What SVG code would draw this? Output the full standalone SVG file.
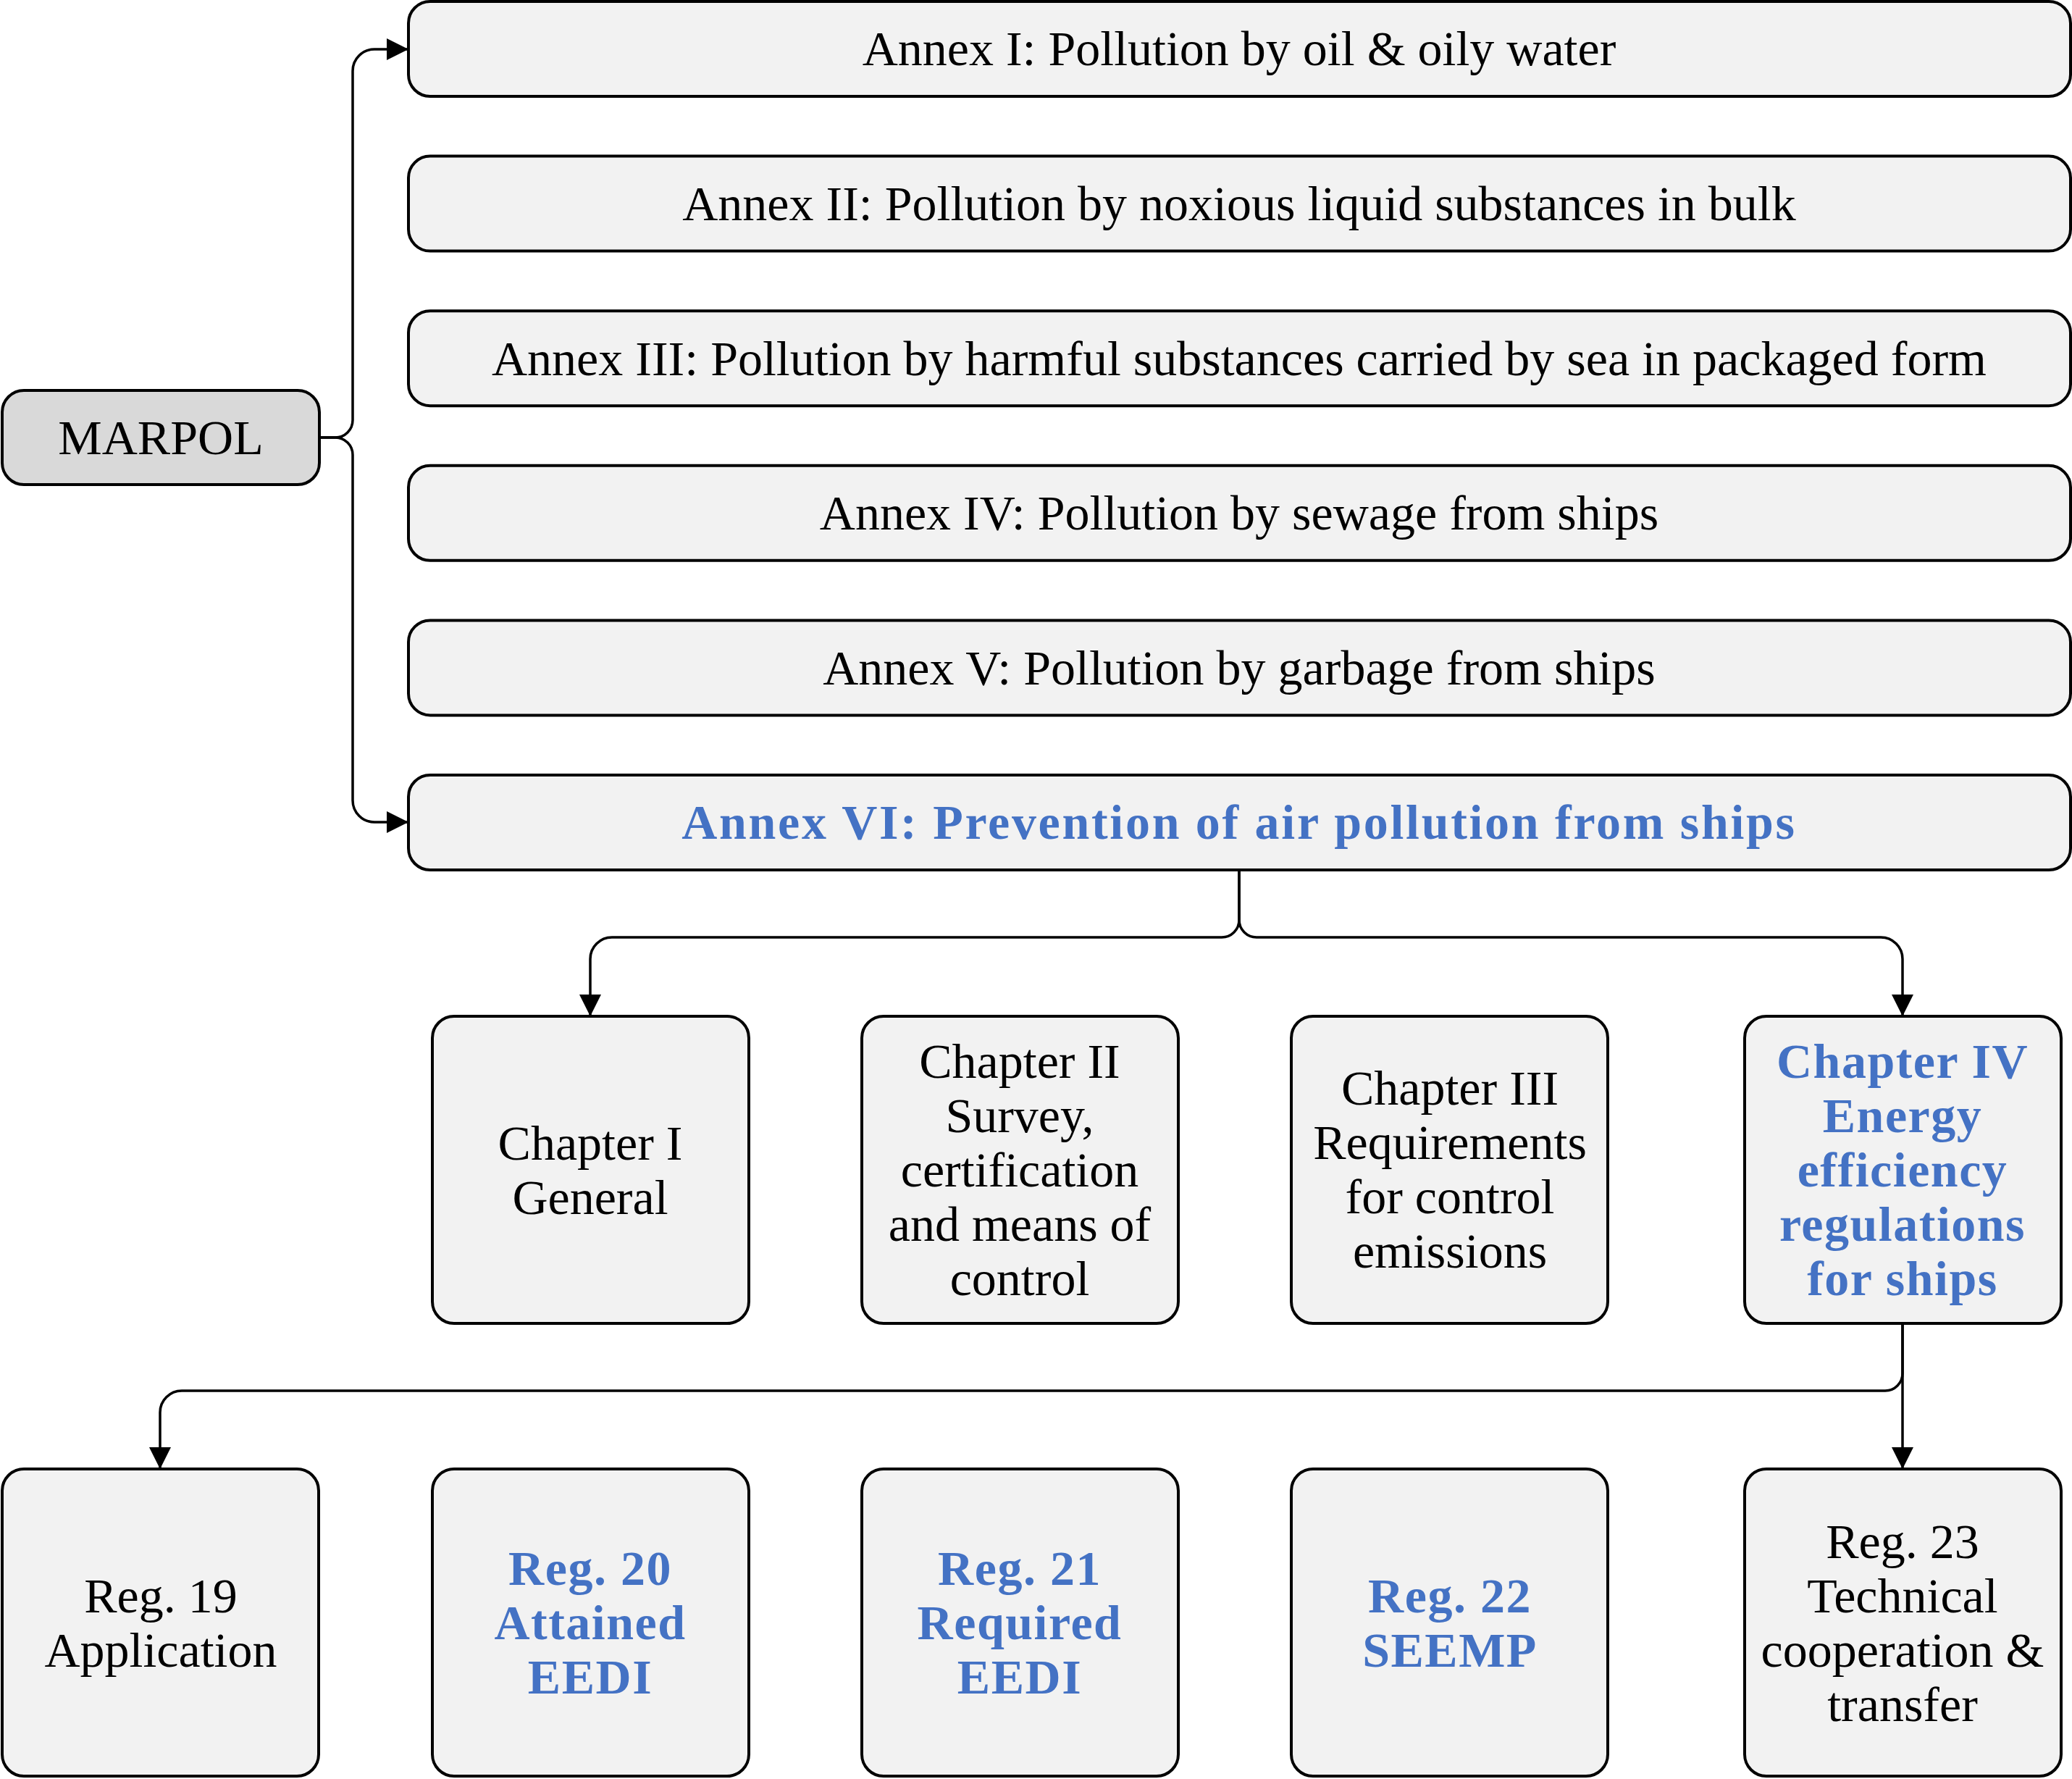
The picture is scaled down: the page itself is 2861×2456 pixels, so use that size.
<svg xmlns="http://www.w3.org/2000/svg" width="2861" height="2456" viewBox="0 0 2861 2456">
<style>
  .box{fill:#F2F2F2;stroke:#000;stroke-width:4}
  .root{fill:#D9D9D9;stroke:#000;stroke-width:4}
  .t{font-family:"Liberation Serif","Times New Roman",serif;font-size:68px;fill:#000;text-anchor:middle}
  .b{font-weight:bold;fill:#4472C4;letter-spacing:1.5px}
  .wide{letter-spacing:2.7px}
  .conn{fill:none;stroke:#000;stroke-width:3.5;marker-end:url(#arr)}
</style>
<defs>
  <marker id="arr" markerUnits="userSpaceOnUse" markerWidth="30" markerHeight="30" refX="30" refY="15" orient="auto">
    <path d="M0,0 L30,15 L0,30 Z" fill="#000"/>
  </marker>
</defs>
<rect width="2861" height="2456" fill="#fff"/>
<g id="connectors">
  <path class="conn" d="M441,604 H463 A24,24 0 0 0 487,580 V98 A30,30 0 0 1 517,68 H564"/>
  <path class="conn" d="M441,604 H463 A24,24 0 0 1 487,628 V1105 A30,30 0 0 0 517,1135 H564"/>
  <path class="conn" d="M1711,1200 V1270 A24,24 0 0 1 1687,1294 H845 A30,30 0 0 0 815,1324 V1403"/>
  <path class="conn" d="M1711,1200 V1270 A24,24 0 0 0 1735,1294 H2597 A30,30 0 0 1 2627,1324 V1403"/>
  <path class="conn" d="M2627,1828 V1896 A24,24 0 0 1 2603,1920 H251 A30,30 0 0 0 221,1950 V2028"/>
  <path class="conn" d="M2627,1828 V2028"/>
</g>
<g id="marpol">
  <rect class="root" x="3" y="539" width="438" height="130" rx="30"/>
  <text class="t" x="222" y="627">MARPOL</text>
</g>
<g id="annex1">
  <rect class="box" x="564" y="2" width="2295" height="131" rx="30"/>
  <text class="t" x="1711" y="90">Annex I: Pollution by oil &amp; oily water</text>
</g>
<g id="annex2">
  <rect class="box" x="564" y="215.6" width="2295" height="131" rx="30"/>
  <text class="t" x="1711" y="304">Annex II: Pollution by noxious liquid substances in bulk</text>
</g>
<g id="annex3">
  <rect class="box" x="564" y="429.2" width="2295" height="131" rx="30"/>
  <text class="t" x="1711" y="518">Annex III: Pollution by harmful substances carried by sea in packaged form</text>
</g>
<g id="annex4">
  <rect class="box" x="564" y="642.8" width="2295" height="131" rx="30"/>
  <text class="t" x="1711" y="731">Annex IV: Pollution by sewage from ships</text>
</g>
<g id="annex5">
  <rect class="box" x="564" y="856.4" width="2295" height="131" rx="30"/>
  <text class="t" x="1711" y="945">Annex V: Pollution by garbage from ships</text>
</g>
<g id="annex6">
  <rect class="box" x="564" y="1070" width="2295" height="131" rx="30"/>
  <text class="t b wide" x="1711" y="1158">Annex VI: Prevention of air pollution from ships</text>
</g>
<g id="chapter1">
  <rect class="box" x="597" y="1403" width="437" height="424" rx="30"/>
  <text class="t" x="815" y="1601">Chapter I</text>
  <text class="t" x="815" y="1676">General</text>
</g>
<g id="chapter2">
  <rect class="box" x="1190" y="1403" width="437" height="424" rx="30"/>
  <text class="t" x="1408" y="1488">Chapter II</text>
  <text class="t" x="1408" y="1563">Survey,</text>
  <text class="t" x="1408" y="1638">certification</text>
  <text class="t" x="1408" y="1713">and means of</text>
  <text class="t" x="1408" y="1788">control</text>
</g>
<g id="chapter3">
  <rect class="box" x="1783" y="1403" width="437" height="424" rx="30"/>
  <text class="t" x="2002" y="1525">Chapter III</text>
  <text class="t" x="2002" y="1600">Requirements</text>
  <text class="t" x="2002" y="1675">for control</text>
  <text class="t" x="2002" y="1750">emissions</text>
</g>
<g id="chapter4">
  <rect class="box" x="2409" y="1403" width="437" height="424" rx="30"/>
  <text class="t b" x="2627" y="1488">Chapter IV</text>
  <text class="t b" x="2627" y="1563">Energy</text>
  <text class="t b" x="2627" y="1638">efficiency</text>
  <text class="t b" x="2627" y="1713">regulations</text>
  <text class="t b" x="2627" y="1788">for ships</text>
</g>
<g id="reg19">
  <rect class="box" x="3" y="2028" width="437" height="424" rx="30"/>
  <text class="t" x="222" y="2226">Reg. 19</text>
  <text class="t" x="222" y="2301">Application</text>
</g>
<g id="reg20">
  <rect class="box" x="597" y="2028" width="437" height="424" rx="30"/>
  <text class="t b" x="815" y="2188">Reg. 20</text>
  <text class="t b" x="815" y="2263">Attained</text>
  <text class="t b" x="815" y="2338">EEDI</text>
</g>
<g id="reg21">
  <rect class="box" x="1190" y="2028" width="437" height="424" rx="30"/>
  <text class="t b" x="1408" y="2188">Reg. 21</text>
  <text class="t b" x="1408" y="2263">Required</text>
  <text class="t b" x="1408" y="2338">EEDI</text>
</g>
<g id="reg22">
  <rect class="box" x="1783" y="2028" width="437" height="424" rx="30"/>
  <text class="t b" x="2002" y="2226">Reg. 22</text>
  <text class="t b" x="2002" y="2301">SEEMP</text>
</g>
<g id="reg23">
  <rect class="box" x="2409" y="2028" width="437" height="424" rx="30"/>
  <text class="t" x="2627" y="2151">Reg. 23</text>
  <text class="t" x="2627" y="2226">Technical</text>
  <text class="t" x="2627" y="2301">cooperation &amp;</text>
  <text class="t" x="2627" y="2376">transfer</text>
</g>
</svg>
